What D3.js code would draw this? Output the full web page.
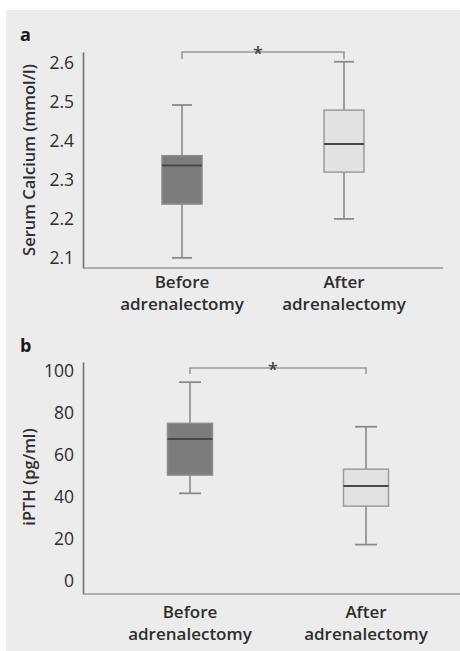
<!DOCTYPE html>
<html>
<head>
<meta charset="utf-8">
<script src="https://cdn.jsdelivr.net/npm/d3@7"></script>
<style>
  html, body { margin: 0; padding: 0; background: #ffffff; }
  svg { display: block; }
  text { font-family: "Open Sans", "Noto Sans", sans-serif; fill: #2e2e2e; }
</style>
</head>
<body>
<svg id="chart" width="460" height="651"></svg>
<script>
// Groups compared in both panels
const groups = ["Before adrenalectomy", "After adrenalectomy"];

// Panel a: serum calcium (mmol/l) — [whiskerLow, q1, median, q3, whiskerHigh]
const calciumBefore = [2.10, 2.238, 2.337, 2.362, 2.492];
const calciumAfter  = [2.20, 2.320, 2.392, 2.479, 2.603];
const calciumTicks  = [2.1, 2.2, 2.3, 2.4, 2.5, 2.6];
const calciumDomain = [2.074, 2.628];

// Panel b: iPTH (pg/ml)
const pthBefore = [41.5, 50.2, 67.3, 74.8, 94.4];
const pthAfter  = [17.1, 35.4, 45.0, 53.0, 73.2];
const pthTicks  = [0, 20, 40, 60, 80, 100];
const pthDomain = [-6.4, 104];

const svg = d3.select("#chart");

// light grey backdrop behind both panels
svg.append("rect")
  .attr("x", 6).attr("y", 10)
  .attr("width", 454).attr("height", 641)
  .attr("fill", "#ececec");

const fills = ["#7c7c7c", "#e2e2e2"];
const strokes = ["#8c8c8c", "#9c9c9c"];

function drawPanel(cfg) {
  const g = svg.append("g");
  const y = d3.scaleLinear().domain(cfg.domain).range([cfg.bottom, cfg.top]);
  const x = d3.scalePoint().domain(groups).range(cfg.centers);

  // panel letter
  g.append("text")
    .attr("x", 20).attr("y", cfg.letterY)
    .attr("font-size", 18).attr("font-weight", 700)
    .style("fill", "#1a1a1a")
    .text(cfg.letter);

  // y axis (line only, no tick marks)
  const yAxis = d3.axisLeft(y).tickValues(cfg.ticks).tickSize(0).tickPadding(9)
    .tickFormat(cfg.format);
  const ya = g.append("g").attr("transform", `translate(${cfg.left},0)`).call(yAxis);
  ya.select(".domain").attr("stroke", "#6f6f6f").attr("stroke-width", 1.6);
  ya.selectAll("text").attr("font-size", 17.5).style("fill", "#2e2e2e");

  // x axis line
  g.append("line")
    .attr("x1", cfg.left).attr("x2", cfg.right)
    .attr("y1", cfg.bottom).attr("y2", cfg.bottom)
    .attr("stroke", "#9a9a9a").attr("stroke-width", 1.6);

  // y axis title
  g.append("text")
    .attr("transform", `translate(${cfg.titleX},${cfg.titleY}) rotate(-90)`)
    .attr("text-anchor", "middle")
    .attr("font-size", 16.5).attr("font-weight", 600)
    .style("fill", "#2e2e2e")
    .text(cfg.title);

  // category labels on two lines
  groups.forEach(name => {
    const words = name.split(" ");
    const t = g.append("text")
      .attr("text-anchor", "middle")
      .attr("font-size", 17).attr("font-weight", 600)
      .style("fill", "#2e2e2e");
    words.forEach((w, i) => {
      t.append("tspan")
        .attr("x", x(name))
        .attr("y", cfg.labelY + i * 22)
        .text(w);
    });
  });

  // boxes
  cfg.data.forEach((d, i) => {
    const cx = x(groups[i]);
    const [lo, q1, med, q3, hi] = d;
    const bw = cfg.boxWidth, cw = cfg.capWidth;
    // whisker stem
    g.append("line")
      .attr("x1", cx).attr("x2", cx)
      .attr("y1", y(lo)).attr("y2", y(hi))
      .attr("stroke", "#8a8a8a").attr("stroke-width", 1.6);
    // caps
    [lo, hi].forEach(v => {
      g.append("line")
        .attr("x1", cx - cw / 2).attr("x2", cx + cw / 2)
        .attr("y1", y(v)).attr("y2", y(v))
        .attr("stroke", "#8a8a8a").attr("stroke-width", 1.8);
    });
    // box
    g.append("rect")
      .attr("x", cx - bw / 2).attr("width", bw)
      .attr("y", y(q3)).attr("height", y(q1) - y(q3))
      .attr("fill", fills[i]).attr("stroke", strokes[i]).attr("stroke-width", 1.5);
    // median
    g.append("line")
      .attr("x1", cx - bw / 2).attr("x2", cx + bw / 2)
      .attr("y1", y(med)).attr("y2", y(med))
      .attr("stroke", "#474747").attr("stroke-width", 2);
  });

  // significance bracket
  const bx0 = x(groups[0]), bx1 = x(groups[1]);
  g.append("path")
    .attr("d", `M${bx0},${cfg.bracketY + cfg.bracketDrop}V${cfg.bracketY}H${bx1}V${cfg.bracketY + cfg.bracketDrop}`)
    .attr("fill", "none").attr("stroke", "#9a9a9a").attr("stroke-width", 1.6);
  g.append("text")
    .attr("x", (bx0 + bx1) / 2 + cfg.starShift).attr("y", cfg.bracketY + 8)
    .attr("text-anchor", "middle")
    .attr("font-size", 18).attr("font-weight", 600)
    .style("fill", "#444")
    .text("*");
}

drawPanel({
  letter: "a", letterY: 41,
  title: "Serum Calcium (mmol/l)", titleX: 35, titleY: 160,
  domain: calciumDomain, ticks: calciumTicks, format: d3.format(".1f"),
  top: 52, bottom: 268, left: 83, right: 443,
  centers: [182, 344], boxWidth: 40, capWidth: 20,
  data: [calciumBefore, calciumAfter],
  labelY: 288, bracketY: 52, bracketDrop: 7, starShift: -5
});

drawPanel({
  letter: "b", letterY: 352,
  title: "iPTH (pg/ml)", titleX: 35, titleY: 477,
  domain: pthDomain, ticks: pthTicks, format: d3.format("d"),
  top: 362, bottom: 594, left: 83, right: 460,
  centers: [190, 366], boxWidth: 45, capWidth: 22,
  data: [pthBefore, pthAfter],
  labelY: 618, bracketY: 368, bracketDrop: 6, starShift: -5
});
</script>
</body>
</html>
